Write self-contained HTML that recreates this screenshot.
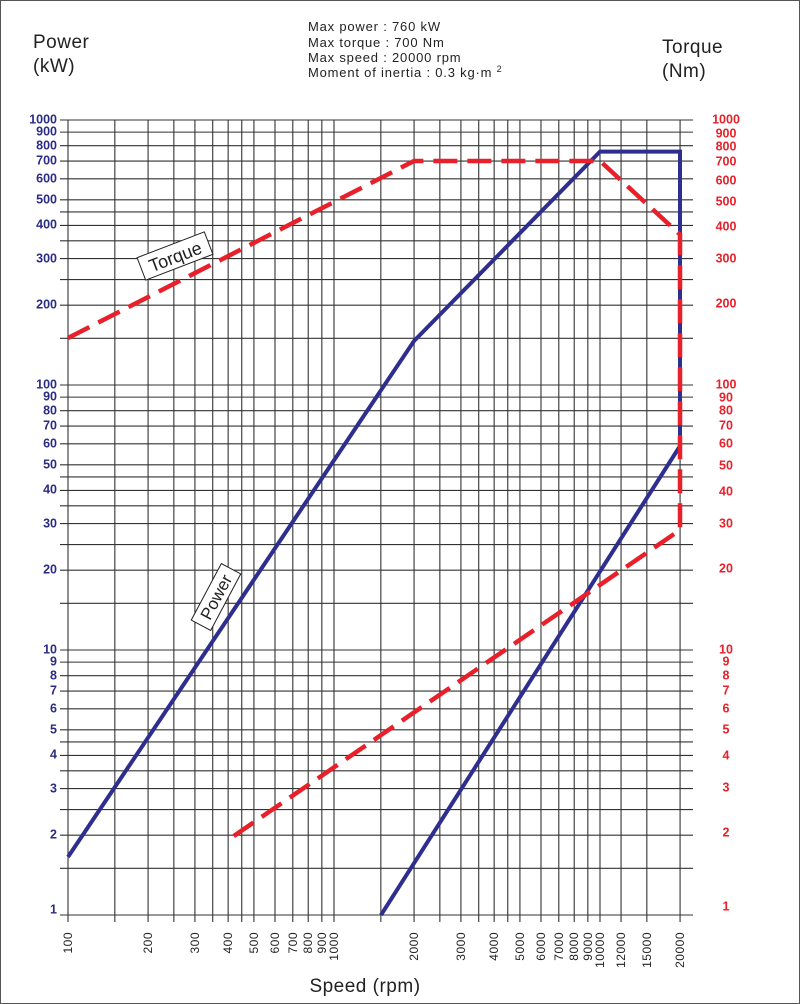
<!DOCTYPE html>
<html><head><meta charset="utf-8"><style>
body{margin:0;background:#fff}
svg{display:block}
.l{font-family:"Liberation Sans",sans-serif;font-weight:bold;font-size:12.5px;fill:#2b2b85}
.r{font-family:"Liberation Sans",sans-serif;font-weight:bold;font-size:12.5px;fill:#e8202a}
.x{font-family:"Liberation Sans",sans-serif;font-size:12px;fill:#222;letter-spacing:0.5px}
.h{font-family:"Liberation Sans",sans-serif;font-size:13px;fill:#222;letter-spacing:0.8px}
.t{font-family:"Liberation Sans",sans-serif;font-size:19px;fill:#222;letter-spacing:0.5px}
</style></head><body>
<svg id="s" width="800" height="1004" viewBox="0 0 800 1004" xmlns="http://www.w3.org/2000/svg">
<rect x="0.5" y="0.5" width="799" height="1003" fill="#fff" stroke="#555" stroke-width="1"/>
<g id="grid" stroke="#333" stroke-width="1.1"></g>
<text class="t" x="33" y="48">Power</text><text class="t" x="33" y="72">(kW)</text>
<text class="t" x="662" y="53">Torque</text><text class="t" x="662" y="77">(Nm)</text>
<text class="h" x="308" y="31">Max power : 760 kW</text>
<text class="h" x="308" y="47">Max torque : 700 Nm</text>
<text class="h" x="308" y="62">Max speed : 20000 rpm</text>
<text class="h" x="308" y="77">Moment of inertia : 0.3 kg·m <tspan font-size="9" dy="-5">2</tspan></text>
<g class="l" text-anchor="end" dominant-baseline="middle">
<text x="57" y="120">1000</text><text x="57" y="132">900</text><text x="57" y="146">800</text><text x="57" y="161">700</text><text x="57" y="179">600</text><text x="57" y="200">500</text><text x="57" y="225">400</text><text x="57" y="259">300</text><text x="57" y="305">200</text>
<text x="57" y="385">100</text><text x="57" y="397">90</text><text x="57" y="411">80</text><text x="57" y="426">70</text><text x="57" y="444">60</text><text x="57" y="465">50</text><text x="57" y="490">40</text><text x="57" y="524">30</text><text x="57" y="570">20</text>
<text x="57" y="650">10</text><text x="57" y="662">9</text><text x="57" y="676">8</text><text x="57" y="691">7</text><text x="57" y="709">6</text><text x="57" y="730">5</text><text x="57" y="755">4</text><text x="57" y="789">3</text><text x="57" y="835">2</text><text x="57" y="910">1</text>
</g>
<g class="r" text-anchor="middle" dominant-baseline="middle">
<text x="726" y="120">1000</text><text x="726" y="134">900</text><text x="726" y="147">800</text><text x="726" y="162">700</text><text x="726" y="181">600</text><text x="726" y="202">500</text><text x="726" y="227">400</text><text x="726" y="259">300</text><text x="726" y="304">200</text>
<text x="726" y="385">100</text><text x="726" y="398">90</text><text x="726" y="411">80</text><text x="726" y="426">70</text><text x="726" y="444">60</text><text x="726" y="466">50</text><text x="726" y="492">40</text><text x="726" y="524">30</text><text x="726" y="569">20</text>
<text x="726" y="650">10</text><text x="726" y="662">9</text><text x="726" y="676">8</text><text x="726" y="691">7</text><text x="726" y="709">6</text><text x="726" y="730">5</text><text x="726" y="756">4</text><text x="726" y="788">3</text><text x="726" y="833">2</text><text x="726" y="907">1</text>
</g>
<g class="x" text-anchor="end">
<text transform="translate(72,932) rotate(-90)">100</text>
<text transform="translate(152,932) rotate(-90)">200</text>
<text transform="translate(199,932) rotate(-90)">300</text>
<text transform="translate(232,932) rotate(-90)">400</text>
<text transform="translate(258,932) rotate(-90)">500</text>
<text transform="translate(279,932) rotate(-90)">600</text>
<text transform="translate(297,932) rotate(-90)">700</text>
<text transform="translate(312,932) rotate(-90)">800</text>
<text transform="translate(326,932) rotate(-90)">900</text>
<text transform="translate(338,932) rotate(-90)">1000</text>
<text transform="translate(418,932) rotate(-90)">2000</text>
<text transform="translate(465,932) rotate(-90)">3000</text>
<text transform="translate(498,932) rotate(-90)">4000</text>
<text transform="translate(524,932) rotate(-90)">5000</text>
<text transform="translate(545,932) rotate(-90)">6000</text>
<text transform="translate(563,932) rotate(-90)">7000</text>
<text transform="translate(578,932) rotate(-90)">8000</text>
<text transform="translate(592,932) rotate(-90)">9000</text>
<text transform="translate(604,932) rotate(-90)">10000</text>
<text transform="translate(625,932) rotate(-90)">12000</text>
<text transform="translate(651,932) rotate(-90)">15000</text>
<text transform="translate(684,932) rotate(-90)">20000</text>
</g>
<text class="t" x="365" y="992" text-anchor="middle">Speed (rpm)</text>
<g fill="none" stroke="#2e2e8f" stroke-width="4" stroke-linejoin="miter">
<polyline points="68,857 414,341 600,151.6 680,151.6 680,444"/>
<polyline points="381,915 680,446"/>
</g>
<g fill="none" stroke="#e8202a" stroke-width="4.5" stroke-dasharray="24,10">
<polyline points="68,338 414,161 600,161 680,234.5 680,530 228,840"/>
</g>
<g transform="translate(175,256) rotate(-21)">
<rect x="-36" y="-12" width="72" height="24" fill="#fff" stroke="#222" stroke-width="1"/>
<text x="0" y="7" text-anchor="middle" font-family="Liberation Sans,sans-serif" font-size="18" fill="#222">Torque</text>
</g>
<g transform="translate(216,597) rotate(-62)">
<rect x="-32" y="-11" width="64" height="22" fill="#fff" stroke="#222" stroke-width="1"/>
<text x="0" y="6" text-anchor="middle" font-family="Liberation Sans,sans-serif" font-size="17" fill="#222">Power</text>
</g>
</svg>
<script>
(function(){
var g=document.getElementById('grid'),ns='http://www.w3.org/2000/svg';
function ln(x1,y1,x2,y2){var l=document.createElementNS(ns,'line');l.setAttribute('x1',x1);l.setAttribute('y1',y1);l.setAttribute('x2',x2);l.setAttribute('y2',y2);g.appendChild(l);}
function X(v){return 68+266*(Math.log10(v)-2);}
function Y(v){return 120+265*(3-Math.log10(v));}
var xs=[100,150,200,250,300,350,400,450,500,600,700,800,900,1000,1500,2000,2500,3000,3500,4000,4500,5000,6000,7000,8000,9000,10000,12000,15000,20000];
xs.forEach(function(v){ln(X(v),120,X(v),922);});
[1,10,100].forEach(function(d){[1,1.5,2,2.5,3,3.5,4,4.5,5,6,7,8,9].forEach(function(m){ln(60,Y(d*m),693,Y(d*m));});});
ln(60,Y(1000),693,Y(1000));
})();
</script>
</body></html>
